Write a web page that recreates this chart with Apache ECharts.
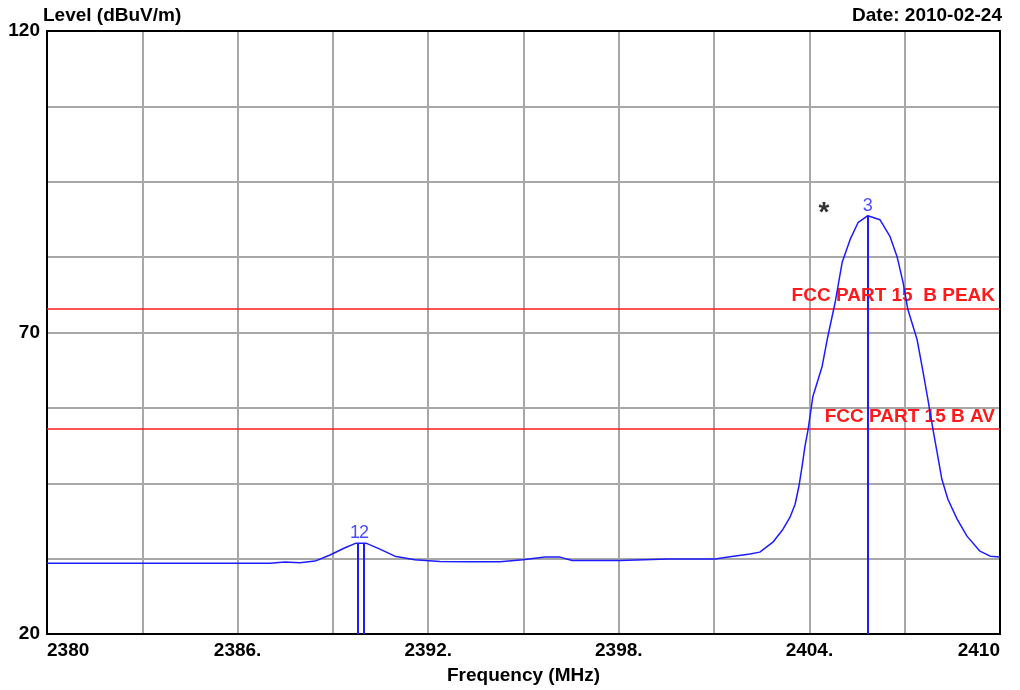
<!DOCTYPE html>
<html>
<head>
<meta charset="utf-8">
<title>Level vs Frequency</title>
<script src="https://cdn.jsdelivr.net/npm/echarts@6/dist/echarts.min.js"></script>
<style>
  html, body { margin: 0; padding: 0; background: #fff; }
  #chart { width: 1020px; height: 690px; }
</style>
</head>
<body>
<div id="chart"></div>
<script>
// Measured trace: frequency (MHz) and level (dBuV/m)
const FREQ = [
  2380.00, 2387.02, 2387.49, 2387.96, 2388.44, 2388.91, 2389.38, 2389.73, 2390.04,
  2390.48, 2390.95, 2391.58, 2392.37, 2393.32, 2394.26, 2394.98, 2395.68, 2396.15,
  2396.53, 2398.04, 2399.55, 2401.03, 2401.50, 2402.13, 2402.44, 2402.85, 2403.17,
  2403.39, 2403.55, 2403.67, 2403.77, 2403.86, 2403.96, 2404.11, 2404.40, 2404.58,
  2404.81, 2405.03, 2405.28, 2405.53, 2405.84, 2406.22, 2406.54, 2406.76, 2406.95,
  2407.10, 2407.39, 2407.58, 2407.73, 2407.89, 2408.02, 2408.17, 2408.36, 2408.65,
  2408.96, 2409.37, 2409.69, 2410.00
];
const LEVEL = [
  31.75, 31.75, 31.92, 31.83, 32.09, 33.10, 34.30, 35.07, 35.07,
  34.08, 32.91, 32.30, 32.04, 32.00, 31.97, 32.30, 32.75, 32.75,
  32.20, 32.20, 32.42, 32.42, 32.80, 33.25, 33.58, 35.23, 37.38,
  39.37, 41.52, 44.50, 47.81, 51.13, 53.94, 59.40, 64.37, 69.34,
  74.97, 81.59, 85.40, 88.21, 89.37, 88.71, 85.89, 82.58, 78.28,
  73.81, 68.84, 63.38, 58.91, 53.94, 50.13, 45.66, 42.35, 39.04,
  36.23, 33.74, 32.91, 32.75
];

// Markers
const MARKER_LABEL = ['1', '2', '3'];
const MARKER_FREQ = [2389.79, 2389.98, 2405.84];
const MARKER_LEVEL = [35.07, 35.07, 89.37];

// Limit lines
const LIMIT_NAME = ['FCC PART 15  B PEAK', 'FCC PART 15 B AV'];
const LIMIT_LEVEL = [74, 54];

// Worst-case flag
const FLAG_FREQ = [2404.46];
const FLAG_LEVEL = [90.9];

// Axis ranges
const X_MIN = 2380, X_MAX = 2410, X_STEP = 3, X_LABEL_STEP = 6;
const Y_MIN = 20, Y_MAX = 120, Y_STEP = 12.5;
const Y_LABELS = [20, 70, 120];

// Axes run on offsets from their minimum so ticks start exactly at the edge
const toX = f => +(f - X_MIN).toFixed(4);
const toY = v => +(v - Y_MIN).toFixed(4);

const BLUE = '#1c1cff';
const RED = '#ff1a1a';
const FONT = '"Liberation Sans", Arial, sans-serif';
const FS = 19;

const chart = echarts.init(document.getElementById('chart'));

const xLabel = v => {
  const f = Math.round(v + X_MIN);
  if (f === X_MIN || f === X_MAX) return String(f);
  if ((f - X_MIN) % X_LABEL_STEP === 0) return f + '.';
  return '';
};
const yLabel = v => {
  const l = Math.round((v + Y_MIN) * 10) / 10;
  return Y_LABELS.includes(l) ? String(l) : '';
};

chart.setOption({
  animation: false,
  backgroundColor: '#fff',
  textStyle: { fontFamily: FONT },
  title: [
    {
      text: 'Level (dBuV/m)', left: 38, top: 1,
      textStyle: { fontSize: FS, fontWeight: 'bold', color: '#000', fontFamily: FONT }
    },
    {
      text: 'Date: 2010-02-24', right: 13, top: 1,
      textStyle: { fontSize: FS, fontWeight: 'bold', color: '#000', fontFamily: FONT }
    }
  ],
  grid: { left: 47, right: 20, top: 31, bottom: 55, containLabel: false },
  xAxis: [
    {
      type: 'value', min: 0, max: X_MAX - X_MIN, interval: X_STEP,
      name: 'Frequency (MHz)', nameLocation: 'middle', nameGap: 32,
      nameTextStyle: { fontSize: FS, fontWeight: 'bold', color: '#000', fontFamily: FONT },
      axisLine: { show: true, lineStyle: { color: '#000', width: 2 } },
      axisTick: { show: false },
      splitLine: { show: true, lineStyle: { color: '#a8a8a8', width: 2 } },
      axisLabel: {
        formatter: xLabel, fontSize: FS, fontWeight: 'bold', color: '#000',
        margin: 7, alignMinLabel: 'left', alignMaxLabel: 'right', fontFamily: FONT
      }
    },
    {
      type: 'value', position: 'top', min: 0, max: X_MAX - X_MIN,
      axisLine: { show: true, onZero: false, lineStyle: { color: '#000', width: 2 } },
      axisTick: { show: false }, axisLabel: { show: false }, splitLine: { show: false }
    }
  ],
  yAxis: [
    {
      type: 'value', min: 0, max: Y_MAX - Y_MIN, interval: Y_STEP,
      axisLine: { show: true, lineStyle: { color: '#000', width: 2 } },
      axisTick: { show: false },
      splitLine: { show: true, lineStyle: { color: '#a8a8a8', width: 2 } },
      axisLabel: {
        formatter: yLabel, fontSize: FS, fontWeight: 'bold', color: '#000',
        margin: 7, fontFamily: FONT, showMinLabel: true, showMaxLabel: true
      }
    },
    {
      type: 'value', position: 'right', min: 0, max: Y_MAX - Y_MIN,
      axisLine: { show: true, onZero: false, lineStyle: { color: '#000', width: 2 } },
      axisTick: { show: false }, axisLabel: { show: false }, splitLine: { show: false }
    }
  ],
  series: [
    {
      name: 'limits', type: 'line', data: [], silent: true,
      markLine: {
        silent: true, symbol: 'none', animation: false,
        lineStyle: { color: RED, width: 1.5, type: 'solid' },
        label: {
          position: 'insideEndTop', color: RED, fontSize: FS, fontWeight: 'bold',
          fontFamily: FONT, distance: [5, 3],
          formatter: p => p.name
        },
        data: LIMIT_LEVEL.map((v, i) => ({ name: LIMIT_NAME[i], yAxis: toY(v) }))
      }
    },
    {
      name: 'trace', type: 'line', showSymbol: false, symbol: 'none',
      lineStyle: { color: BLUE, width: 1.5 }, z: 5,
      data: FREQ.map((f, i) => [toX(f), toY(LEVEL[i])])
    },
    {
      name: 'markers', type: 'line', data: [], z: 4,
      markLine: {
        silent: true, symbol: 'none', animation: false,
        lineStyle: { color: BLUE, width: 2, type: 'solid' },
        label: { show: false },
        data: MARKER_FREQ.map((f, i) => [
          { coord: [toX(f), toY(MARKER_LEVEL[i])] },
          { coord: [toX(f), 0] }
        ])
      }
    },
    {
      name: 'marker labels', type: 'scatter', symbolSize: 0, z: 6,
      data: MARKER_FREQ.map((f, i) => ({
        value: [toX(f), toY(MARKER_LEVEL[i])],
        label: { offset: i === 0 ? [-3, 0] : [0, 0] }
      })),
      label: {
        show: true, position: 'top', distance: 1, color: BLUE, fontSize: 18,
        fontFamily: FONT,
        formatter: p => MARKER_LABEL[p.dataIndex]
      }
    },
    {
      name: 'flag', type: 'scatter', symbolSize: 0, z: 6,
      data: FLAG_FREQ.map((f, i) => [toX(f), toY(FLAG_LEVEL[i])]),
      label: {
        show: true, position: 'inside', color: '#000', fontSize: 28, fontWeight: 'bold',
        fontFamily: FONT, formatter: '*', offset: [0, 7]
      }
    }
  ]
});
</script>
</body>
</html>
